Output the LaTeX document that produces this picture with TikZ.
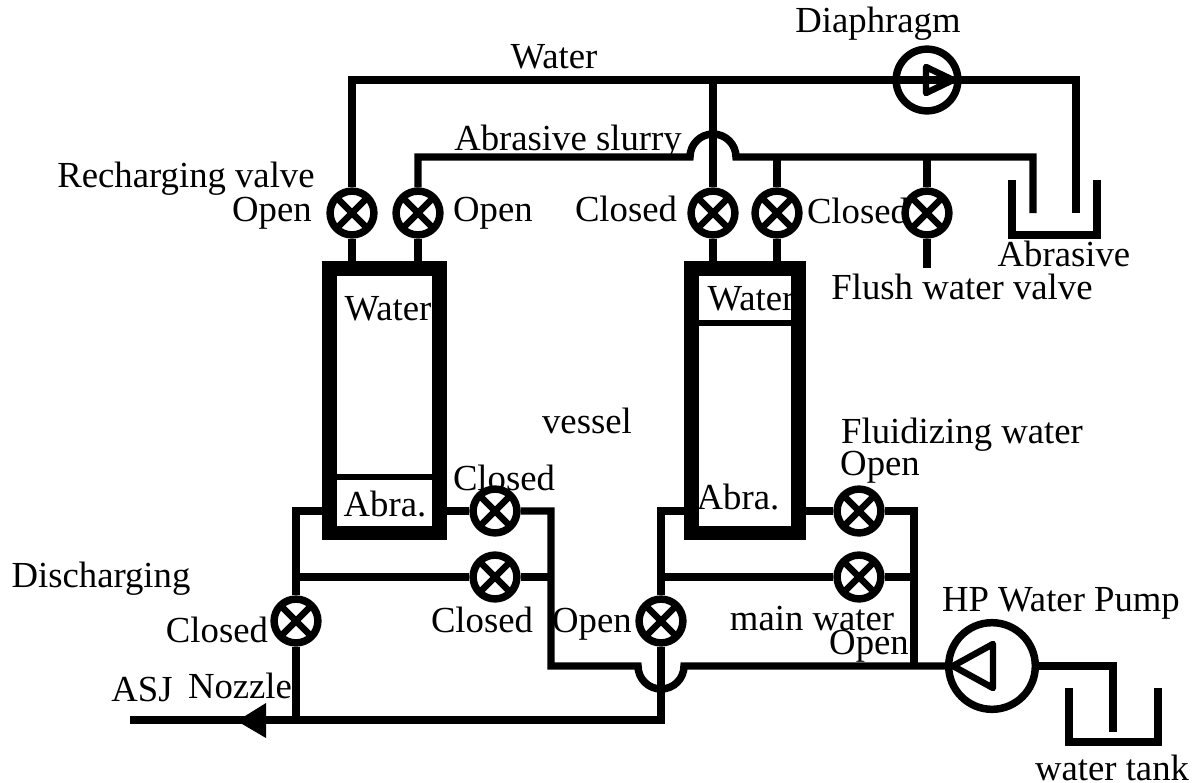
\documentclass[tikz,border=0pt]{standalone}
\usepackage{fontspec}
\setmainfont{Liberation Serif}
\def\tikzscale{.02}
\def\pxunit{0.5669pt}

\tikzset{
  pipe/.style={line width=7.5*\pxunit},
  thinpipe/.style={line width=6*\pxunit},
  valve/.style={circle,draw,fill=white,line width=7.5*\pxunit,inner sep=0pt,
    minimum size=44*\pxunit,
    path picture={
      \draw[line width=6.5*\pxunit]
      (path picture bounding box.north west) -- (path picture bounding box.south east)
      (path picture bounding box.north east) -- (path picture bounding box.south west);}},
  pump/.style={circle,draw,line width=7.5*\pxunit,inner sep=0pt},
  vessel/.style={rectangle,draw,line width=15*\pxunit,inner sep=0pt,
    minimum width=110*\pxunit,minimum height=266*\pxunit},
  lbl/.style={anchor=base,inner sep=0pt,font=\fontsize{20.9}{24}\selectfont}
}

\begin{document}
\begin{tikzpicture}[x=\tikzscale cm,y=-\tikzscale cm]
  \useasboundingbox (0,0) rectangle (1201,782);

  % vessels
  \node[vessel] (lvessel) at (384.5,400.5) {};
  \node[vessel,minimum width=107*\pxunit] (rvessel) at (745,400.5) {};
  \draw[thinpipe] (lvessel.west |- 0,477) -- (lvessel.east |- 0,477);
  \draw[thinpipe] (rvessel.west |- 0,323) -- (rvessel.east |- 0,323);

  % valves
  \node[valve] (vrecharge) at (352,213) {};
  \node[valve] (vslurry)   at (418,213) {};
  \node[valve] (vwater)    at (713,213) {};
  \node[valve] (vrslurry)  at (777,213) {};
  \node[valve] (vflush)    at (927,213) {};
  \node[valve] (vlfluid)   at (495,511) {};
  \node[valve] (vlmain)    at (495,577) {};
  \node[valve] (vldisch)   at (296,621) {};
  \node[valve] (vrfluid)   at (859,511) {};
  \node[valve] (vrmain)    at (859,577) {};
  \node[valve] (vrdisch)   at (661,621) {};

  % pumps
  \node[pump,minimum size=62*\pxunit] (diaphragm) at (927,80) {};
  \node[pump,minimum size=87*\pxunit] (hppump) at (992,666) {};
  \draw[line width=6.5*\pxunit,line join=round] (926,67) -- (953,80) -- (926,93) -- cycle;
  \draw[line width=6.5*\pxunit,line join=round] (993,644) -- (953,666) -- (993,688) -- cycle;

  % junctions
  \coordinate (wcorner) at (352,80);
  \coordinate (wtee) at (713,80);
  \coordinate (wright) at (1076,80);
  \coordinate (wend) at (1076,213);
  \coordinate (scorner) at (418,157);
  \coordinate (sleft) at (690,157);
  \coordinate (sright) at (736,157);
  \coordinate (scorner2) at (1033,157);
  \coordinate (send) at (1033,213);
  \coordinate (fend) at (927,268);
  \coordinate (mainleft) at (551,666);
  \coordinate (bumpl) at (638,666);
  \coordinate (bumpr) at (684,666);
  \coordinate (nozzle) at (130,720);
  \coordinate (ptop) at (1113,666);
  \coordinate (pend) at (1113,732);

  % water line
  \draw[pipe] (vrecharge) -- (wcorner) -- (wright) -- (wend);
  \draw[pipe] (wtee) -- (vwater);
  \draw[pipe] (vrecharge) -- (vrecharge |- lvessel.north);
  \draw[pipe] (vslurry) -- (vslurry |- lvessel.north);
  \draw[pipe] (vwater) -- (vwater |- rvessel.north);
  \draw[pipe] (vrslurry) -- (vrslurry |- rvessel.north);

  % slurry line
  \draw[pipe] (vslurry) -- (scorner) -- (sleft) arc (180:360:23) -- (scorner2) -- (send);
  \draw[pipe] (vrslurry) -- (vrslurry |- sright);
  \draw[pipe] (vflush) -- (vflush |- sright);
  \draw[pipe] (vflush) -- (fend);

  % abrasive tank
  \draw[pipe] (1012,180) -- (1012,235) -- (1097,235) -- (1097,180);

  % left vessel piping
  \draw[pipe] (lvessel.west |- vlfluid) -- (vldisch |- vlfluid) -- (vldisch);
  \draw[pipe] (lvessel.east |- vlfluid) -- (vlfluid);
  \draw[pipe] (vlfluid) -- (mainleft |- vlfluid) -- (mainleft) -- (bumpl)
    arc (180:0:23) -- (hppump);
  \draw[pipe] (vldisch |- vlmain) -- (vlmain);
  \draw[pipe] (vlmain) -- (mainleft |- vlmain);

  % right vessel piping
  \draw[pipe] (rvessel.west |- vrfluid) -- (vrdisch |- vrfluid) -- (vrdisch);
  \draw[pipe] (rvessel.east |- vrfluid) -- (vrfluid);
  \draw[pipe] (vrfluid) -- (914,511) -- (914,666);
  \draw[pipe] (vrdisch |- vrmain) -- (vrmain);
  \draw[pipe] (vrmain) -- (914,577);

  % nozzle line
  \draw[pipe] (vldisch) -- (vldisch |- nozzle);
  \draw[pipe] (vrdisch) -- (vrdisch |- nozzle) -- (nozzle);
  \fill (237,721) -- (266,703) -- (266,738) -- cycle;

  % water tank
  \draw[pipe] (hppump) -- (ptop) -- (pend);
  \draw[pipe] (1069,688) -- (1069,742) -- (1158,742) -- (1158,688);

  % labels
  \node[lbl] (tdiaphragm) at (878,32) {Diaphragm};
  \node[lbl] (twater) at (554,68) {Water};
  \node[lbl] (tslurry) at (568,150) {Abrasive slurry};
  \node[lbl] (trecharge) at (186,187) {Recharging valve};
  \node[lbl] (topen1) at (272,221) {Open};
  \node[lbl] (topen2) at (493,221) {Open};
  \node[lbl] (tclosed1) at (626,221) {Closed};
  \node[lbl] (tclosed2) at (858,223) {Closed};
  \node[lbl] (tabrasive) at (1064,266) {Abrasive};
  \node[lbl] (tflush) at (962,299) {Flush water valve};
  \node[lbl] (twaterl) at (388,320) {Water};
  \node[lbl] (twaterr) at (751,310) {Water};
  \node[lbl] (tvessel) at (587,433) {vessel};
  \node[lbl] (tfluid) at (962,443) {Fluidizing water};
  \node[lbl] (topen3) at (880,475) {Open};
  \node[lbl] (tclosed3) at (504,490) {Closed};
  \node[lbl] (tabral) at (385,516) {Abra.};
  \node[lbl] (tabrar) at (738,509) {Abra.};
  \node[lbl] (tdisch) at (101,587) {Discharging};
  \node[lbl] (tclosed4) at (217,642) {Closed};
  \node[lbl] (tclosed5) at (482,632) {Closed};
  \node[lbl] (topen4) at (592,632) {Open};
  \node[lbl] (tmain) at (812,630) {main water};
  \node[lbl] (topen5) at (869,654) {Open};
  \node[lbl] (thp) at (1061,611) {HP Water Pump};
  \node[lbl] (tasj) at (142,701) {ASJ};
  \node[lbl] (tnozzle) at (240,698) {Nozzle};
  \node[lbl] (ttank) at (1112,780) {water tank};

\end{tikzpicture}
\end{document}
